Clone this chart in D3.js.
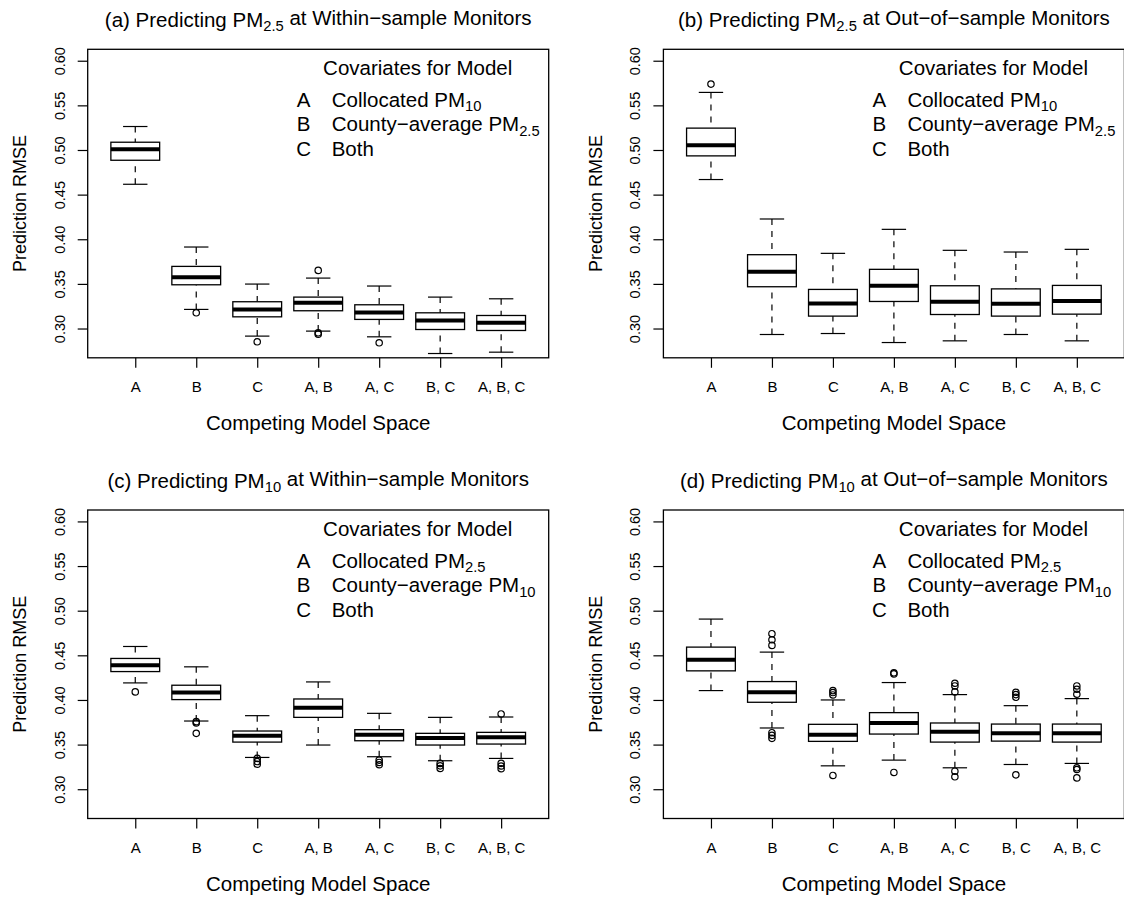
<!DOCTYPE html>
<html>
<head>
<meta charset="utf-8">
<script src="https://cdn.jsdelivr.net/npm/d3@7"></script>
<style>
  body { margin: 0; background: #fff; }
  svg { display: block; font-family: "Liberation Sans", Arial, Helvetica, sans-serif; }
</style>
</head>
<body>
<svg id="chart" width="1124" height="897"></svg>
<script>
// model spaces on the x axis
const models = ["A", "B", "C", "A, B", "A, C", "B, C", "A, B, C"];
const yTicks = [0.30, 0.35, 0.40, 0.45, 0.50, 0.55, 0.60];

// box stats per model: [lower whisker, Q1, median, Q3, upper whisker]
const statsA = [
  [0.4616, 0.4885, 0.5009, 0.5087, 0.5263],
  [0.3214, 0.3490, 0.3573, 0.3696, 0.3913],
  [0.2915, 0.3131, 0.3214, 0.3300, 0.3498],
  [0.2971, 0.3199, 0.3288, 0.3352, 0.3565],
  [0.2907, 0.3102, 0.3180, 0.3266, 0.3476],
  [0.2720, 0.2989, 0.3090, 0.3176, 0.3352],
  [0.2735, 0.2978, 0.3064, 0.3146, 0.3333]
];
const outliersA = [[], [0.3176], [0.2851], [0.3651, 0.2952, 0.2937], [0.2840], [], []];

const statsB = [
  [0.4669, 0.4934, 0.5054, 0.5245, 0.5645],
  [0.2933, 0.3468, 0.3637, 0.3827, 0.4227],
  [0.2944, 0.3139, 0.3281, 0.3438, 0.3842],
  [0.2843, 0.3303, 0.3479, 0.3663, 0.4111],
  [0.2862, 0.3157, 0.3300, 0.3479, 0.3876],
  [0.2933, 0.3139, 0.3277, 0.3444, 0.3857],
  [0.2862, 0.3161, 0.3307, 0.3483, 0.3887]
];
const outliersB = [[0.5738], [], [], [], [], [], []];

const statsC = [
  [0.4191, 0.4318, 0.4390, 0.4465, 0.4599],
  [0.3764, 0.4004, 0.4083, 0.4165, 0.4371],
  [0.3356, 0.3528, 0.3600, 0.3652, 0.3824],
  [0.3495, 0.3805, 0.3914, 0.4011, 0.4202],
  [0.3364, 0.3543, 0.3611, 0.3667, 0.3850],
  [0.3319, 0.3495, 0.3573, 0.3626, 0.3805],
  [0.3345, 0.3506, 0.3581, 0.3637, 0.3809]
];
const outliersC = [
  [0.4090], [0.3757, 0.3742, 0.3626], [0.3345, 0.3310, 0.3280], [],
  [0.3326, 0.3300, 0.3274], [0.3289, 0.3262, 0.3232], [0.3843, 0.3290, 0.3260, 0.3230]
];

const statsD = [
  [0.4105, 0.4326, 0.4450, 0.4592, 0.4906],
  [0.3686, 0.3974, 0.4086, 0.4206, 0.4536],
  [0.3262, 0.3536, 0.3611, 0.3727, 0.4000],
  [0.3326, 0.3618, 0.3742, 0.3858, 0.4195],
  [0.3240, 0.3528, 0.3644, 0.3742, 0.4060],
  [0.3277, 0.3539, 0.3626, 0.3730, 0.3936],
  [0.3289, 0.3528, 0.3626, 0.3730, 0.4015]
];
const outliersD = [
  [], [0.4742, 0.4674, 0.4611, 0.3633, 0.3603, 0.3570], [0.4105, 0.4083, 0.4056, 0.3154],
  [0.4304, 0.4292, 0.3188], [0.4187, 0.4157, 0.4090, 0.3202, 0.3139],
  [0.4086, 0.4060, 0.4030, 0.3161], [0.4157, 0.4120, 0.4064, 0.3240, 0.3221, 0.3127]
];

const panels = [
  { tag: "(a)", pm: "2.5", where: "Within\u2212sample", stats: statsA, out: outliersA, covA: "10", covB: "2.5", left: 87.7, top: 49.3 },
  { tag: "(b)", pm: "2.5", where: "Out\u2212of\u2212sample", stats: statsB, out: outliersB, covA: "10", covB: "2.5", left: 663.4, top: 49.3 },
  { tag: "(c)", pm: "10", where: "Within\u2212sample", stats: statsC, out: outliersC, covA: "2.5", covB: "10", left: 87.7, top: 510 },
  { tag: "(d)", pm: "10", where: "Out\u2212of\u2212sample", stats: statsD, out: outliersD, covA: "2.5", covB: "10", left: 663.4, top: 510 }
];

const plotW = 461, plotH = 308.5;
const svg = d3.select("#chart");

// text with a subscript part
function subText(sel, before, sub, after) {
  sel.append("tspan").text(before);
  sel.append("tspan").attr("dy", "0.3em").attr("font-size", "0.72em").text(sub);
  sel.append("tspan").attr("dy", "-0.3em").text(after);
}

panels.forEach(function (p) {
  const g = svg.append("g").attr("transform", `translate(${p.left},${p.top})`);

  const x = d3.scalePoint().domain(models).range([0, plotW]).padding(0.78);
  const y = d3.scaleLinear().domain([0.2672, 0.6128]).range([plotH, 0]);
  const boxW = x.step() * 0.8;

  // title
  subText(g.append("text")
      .attr("x", plotW / 2).attr("y", -22.5)
      .attr("text-anchor", "middle").attr("font-size", 20.5),
    p.tag + " Predicting PM", p.pm, " at " + p.where + " Monitors");

  // y axis
  const yAxis = g.append("g")
    .call(d3.axisLeft(y).tickValues(yTicks).tickFormat(d3.format(".2f")).tickSize(10));
  yAxis.select(".domain").remove();
  yAxis.selectAll("line").attr("stroke", "#000").attr("stroke-width", 1.2);
  yAxis.selectAll("text")
    .attr("x", null).attr("dy", null)
    .attr("text-anchor", "middle")
    .attr("font-size", 14.5)
    .attr("font-family", "Liberation Sans, Arial, sans-serif")
    .attr("transform", "translate(-23,0) rotate(-90)");

  // x axis
  const xAxis = g.append("g").attr("transform", `translate(0,${plotH})`)
    .call(d3.axisBottom(x).tickSize(10));
  xAxis.select(".domain").remove();
  xAxis.selectAll("line").attr("stroke", "#000").attr("stroke-width", 1.2);
  xAxis.selectAll("text")
    .attr("y", 34.5).attr("dy", null)
    .attr("font-size", 15)
    .attr("font-family", "Liberation Sans, Arial, sans-serif");

  // axis titles
  g.append("text")
    .attr("transform", `translate(-61.5,${plotH / 2}) rotate(-90)`)
    .attr("text-anchor", "middle").attr("font-size", 18)
    .text("Prediction RMSE");
  g.append("text")
    .attr("x", plotW / 2).attr("y", plotH + 72)
    .attr("text-anchor", "middle").attr("font-size", 20.5)
    .text("Competing Model Space");

  // boxes
  const boxes = g.selectAll(".bx").data(p.stats).enter().append("g")
    .attr("class", "bx")
    .attr("transform", (d, i) => `translate(${x(models[i])},0)`);

  boxes.append("line") // lower whisker
    .attr("y1", d => y(d[0])).attr("y2", d => y(d[1]))
    .attr("stroke", "#000").attr("stroke-width", 1.2).attr("stroke-dasharray", "6,6");
  boxes.append("line") // upper whisker
    .attr("y1", d => y(d[4])).attr("y2", d => y(d[3]))
    .attr("stroke", "#000").attr("stroke-width", 1.2).attr("stroke-dasharray", "6,6");
  boxes.append("line")
    .attr("x1", -boxW / 4).attr("x2", boxW / 4)
    .attr("y1", d => y(d[0])).attr("y2", d => y(d[0]))
    .attr("stroke", "#000").attr("stroke-width", 1.2);
  boxes.append("line")
    .attr("x1", -boxW / 4).attr("x2", boxW / 4)
    .attr("y1", d => y(d[4])).attr("y2", d => y(d[4]))
    .attr("stroke", "#000").attr("stroke-width", 1.2);
  boxes.append("rect")
    .attr("x", -boxW / 2).attr("width", boxW)
    .attr("y", d => y(d[3])).attr("height", d => y(d[1]) - y(d[3]))
    .attr("fill", "#fff").attr("stroke", "#000").attr("stroke-width", 1.3);
  boxes.append("line")
    .attr("x1", -boxW / 2).attr("x2", boxW / 2)
    .attr("y1", d => y(d[2])).attr("y2", d => y(d[2]))
    .attr("stroke", "#000").attr("stroke-width", 4);

  // outliers
  boxes.each(function (d, i) {
    d3.select(this).selectAll("circle").data(p.out[i]).enter().append("circle")
      .attr("cx", 0).attr("cy", v => y(v)).attr("r", 3.2)
      .attr("fill", "none").attr("stroke", "#000").attr("stroke-width", 1.2);
  });

  // plot frame
  g.append("rect")
    .attr("width", plotW).attr("height", plotH)
    .attr("fill", "none").attr("stroke", "#000").attr("stroke-width", 1.3);

  // legend
  const lg = g.append("g").attr("font-size", 20.5);
  lg.append("text").attr("x", 330).attr("y", 26).attr("text-anchor", "middle")
    .text("Covariates for Model");
  const rows = [
    ["A", "Collocated PM", p.covA],
    ["B", "County\u2212average PM", p.covB],
    ["C", "Both", null]
  ];
  rows.forEach(function (r, i) {
    const yy = 57.5 + i * 24.7;
    lg.append("text").attr("x", 216).attr("y", yy).attr("text-anchor", "middle").text(r[0]);
    const t = lg.append("text").attr("x", 244).attr("y", yy);
    if (r[2]) subText(t, r[1], r[2], ""); else t.text(r[1]);
  });
});
</script>
</body>
</html>
